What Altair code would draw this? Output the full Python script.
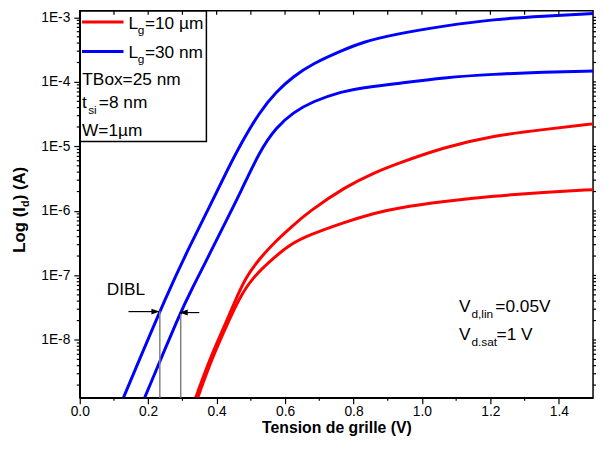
import altair as alt
import pandas as pd

# ---- data: gate voltage (V) and log10 of drain current (A)
vg_blue_sat = [0.128, 0.263, 0.325, 0.373, 0.421, 0.46, 0.527, 0.575, 0.623, 0.681, 0.768, 0.825, 0.921, 1.066, 1.21, 1.355, 1.5]
log_blue_sat = [-8.89, -7.19, -6.51, -6.00, -5.48, -5.06, -4.45, -4.146, -3.92, -3.715, -3.51, -3.385, -3.26, -3.13, -3.03, -2.98, -2.94]

vg_blue_lin = [0.19, 0.296, 0.325, 0.383, 0.431, 0.469, 0.527, 0.575, 0.623, 0.681, 0.768, 0.825, 0.921, 1.066, 1.21, 1.355, 1.5]
log_blue_lin = [-8.89, -7.545, -7.24, -6.63, -6.12, -5.72, -5.06, -4.70, -4.476, -4.30, -4.146, -4.09, -4.03, -3.93, -3.88, -3.85, -3.83]

vg_red_sat = [0.339, 0.382, 0.434, 0.455, 0.484, 0.522, 0.570, 0.618, 0.667, 0.777, 0.864, 0.921, 1.066, 1.21, 1.355, 1.5]
log_red_sat = [-8.89, -8.26, -7.65, -7.38, -7.04, -6.76, -6.48, -6.25, -6.02, -5.62, -5.40, -5.28, -5.01, -4.83, -4.74, -4.65]

vg_red_lin = [0.345, 0.388, 0.440, 0.464, 0.503, 0.570, 0.618, 0.667, 0.770, 0.864, 0.921, 1.066, 1.21, 1.355, 1.5]
log_red_lin = [-8.89, -8.26, -7.65, -7.38, -7.04, -6.71, -6.51, -6.38, -6.18, -6.03, -5.96, -5.85, -5.77, -5.71, -5.67]

series_names = ["red_sat", "red_lin", "blue_sat", "blue_lin"]
series_colors = ["#ff0000", "#ff0000", "#0000ff", "#0000ff"]

# DIBL markers (threshold voltages and current level)
dibl_vg = [0.234, 0.295]
dibl_log = [-7.545, -7.60]
arrow_tail_vg = [0.1424, 0.3492]
arrow_tip_vg = [0.2325, 0.2924]
arrow_log = [-7.56, -7.575]

x_ticks = [0.0, 0.2, 0.4, 0.6, 0.8, 1.0, 1.2, 1.4]
x_minor = [0.1, 0.3, 0.5, 0.7, 0.9, 1.1, 1.3]
x_top = [0.1, 0.2, 0.3, 0.4, 0.5, 0.6, 0.7, 0.8, 0.9, 1.0, 1.1, 1.2, 1.3, 1.4]
y_ticks = [1e-8, 1e-7, 1e-6, 1e-5, 1e-4, 1e-3]
y_minor = [m * 10.0 ** k for k in range(-9, -3) for m in range(2, 10)]

# ---- build tables
rows = []
for name, xs, ls in [("red_sat", vg_red_sat, log_red_sat), ("red_lin", vg_red_lin, log_red_lin),
                     ("blue_sat", vg_blue_sat, log_blue_sat), ("blue_lin", vg_blue_lin, log_blue_lin)]:
    for i, (x, l) in enumerate(zip(xs, ls)):
        rows.append({"vg": x, "id": 10.0 ** l, "s": name, "o": i})
df = pd.DataFrame(rows)

Y_MIN = 10.0 ** -8.895
Y_MAX = 10.0 ** -2.898
W, H = 520, 392
FONT = "Liberation Sans"

xscale = alt.Scale(domain=[0, 1.5], nice=False, zero=False)
yscale = alt.Scale(type="log", domain=[Y_MIN, Y_MAX], nice=False)
X_AXIS = alt.Axis(values=x_ticks, format=".1f", title="Tension de grille (V)", labelFlush=False,
                  tickSize=6, labelPadding=1, titlePadding=1, grid=False)
Y_AXIS = alt.Axis(values=y_ticks, labelExpr="'1E' + round(log(datum.value) / LN10)", labelFlush=False,
                  title=None, tickSize=6, labelPadding=4, grid=False)


def xe():
    return alt.X("vg:Q", scale=xscale, axis=X_AXIS)


def ye():
    return alt.Y("id:Q", scale=yscale, axis=Y_AXIS)


curves = alt.Chart(df).mark_line(strokeWidth=3, clip=True, interpolate="basis").encode(
    x=xe(), y=ye(),
    color=alt.Color("s:N", scale=alt.Scale(domain=series_names, range=series_colors), legend=None),
    order="o:Q",
)

one = pd.DataFrame({"a": [0]})

# minor / mirrored ticks
xminor_df = pd.DataFrame({"vg": x_minor})
xtop_df = pd.DataFrame({"vg": x_top})
yminor_df = pd.DataFrame({"id": y_minor})
ymajor_df = pd.DataFrame({"id": y_ticks})

tick_layers = [
    alt.Chart(xminor_df).mark_rule(color="black", strokeWidth=1.2).encode(x=xe(), y=alt.value(H), y2=alt.value(H + 3)),
    alt.Chart(xtop_df).mark_rule(color="black", strokeWidth=1.2).encode(x=xe(), y=alt.value(0), y2=alt.value(4)),
    alt.Chart(yminor_df).mark_rule(color="black", strokeWidth=1.2).encode(y=ye(), x=alt.value(-3), x2=alt.value(0)),
    alt.Chart(yminor_df).mark_rule(color="black", strokeWidth=1.2).encode(y=ye(), x=alt.value(W), x2=alt.value(W + 3)),
    alt.Chart(ymajor_df).mark_rule(color="black", strokeWidth=1.2).encode(y=ye(), x=alt.value(W), x2=alt.value(W + 5)),
]

# DIBL construction
dibl_df = pd.DataFrame({"vg": dibl_vg, "id": [10.0 ** l for l in dibl_log], "id0": [Y_MIN, Y_MIN]})
vlines = alt.Chart(dibl_df).mark_rule(color="#808080", strokeWidth=1.5).encode(
    x=xe(), y=ye(), y2="id0:Q")
arr_df = pd.DataFrame({"vg": arrow_tail_vg, "vg2": arrow_tip_vg, "id": [10.0 ** l for l in arrow_log]})
arrows = alt.Chart(arr_df).mark_rule(color="black", strokeWidth=1.2).encode(x=xe(), x2="vg2:Q", y=ye())
head_r = alt.Chart(pd.DataFrame({"vg": [arrow_tip_vg[0]], "id": [10.0 ** arrow_log[0]]})).mark_point(
    shape="M0,0L-2,-0.75L-2,0.75Z", filled=True, size=64, color="black", opacity=1).encode(x=xe(), y=ye())
head_l = alt.Chart(pd.DataFrame({"vg": [arrow_tip_vg[1]], "id": [10.0 ** arrow_log[1]]})).mark_point(
    shape="M0,0L2,-0.75L2,0.75Z", filled=True, size=64, color="black", opacity=1).encode(x=xe(), y=ye())


def txt(s, px, py, size, weight="normal", angle=0):
    return alt.Chart(one).mark_text(
        align="left", baseline="alphabetic", font=FONT, fontSize=size, fontWeight=weight,
        angle=angle, color="black").encode(x=alt.value(px), y=alt.value(py), text=alt.value(s))


# legend box
box = alt.Chart(one).mark_rect(fill="white", fillOpacity=0, stroke="black", strokeWidth=1.5).encode(
    x=alt.value(0), x2=alt.value(128.3), y=alt.value(0), y2=alt.value(132.5))
leg_red = alt.Chart(one).mark_rule(color="#ff0000", strokeWidth=3).encode(
    x=alt.value(2.3), x2=alt.value(44.3), y=alt.value(11.3))
leg_blue = alt.Chart(one).mark_rule(color="#0000ff", strokeWidth=3).encode(
    x=alt.value(2.3), x2=alt.value(44.3), y=alt.value(41.3))

FS = 17.5
SUB = 12
texts = [
    txt("L", 49.3, 18.7, FS), txt("g", 58.8, 24.0, SUB), txt("=10 µm", 66.0, 18.7, FS),
    txt("L", 49.3, 47.5, FS), txt("g", 58.8, 52.8, SUB), txt("=30 nm", 66.0, 47.5, FS),
    txt("TBox=25 nm", 2.6, 75.3, FS),
    txt("t", 2.3, 98.7, FS), txt("si", 8.5, 104.5, SUB), txt("=8 nm", 19.3, 98.7, FS),
    txt("W=1µm", 2.3, 127.0, FS),
    txt("DIBL", 27.3, 288.0, FS),
    txt("V", 384.3, 305.3, FS), txt("d,lin", 396.8, 311.5, SUB), txt("=0.05V", 421.0, 305.3, FS),
    txt("V", 384.3, 333.3, FS), txt("d.sat", 396.8, 339.5, SUB), txt("=1 V", 422.3, 333.3, FS),
    # y-axis title with subscript
    txt("Log (I", -55.7, 245.0, 17, "bold", 270),
    txt("d", -51.7, 198.7, 11, "bold", 270),
    txt(") (A)", -55.7, 192.0, 17, "bold", 270),
]

chart = alt.layer(
    curves, *tick_layers, vlines, arrows, head_r, head_l, box, leg_red, leg_blue, *texts
).properties(
    width=W, height=H,
    autosize=alt.AutoSizeParams(type="none"),
    padding={"left": 72.7, "top": 0, "right": 3, "bottom": 42},
).configure_view(
    stroke="black", strokeWidth=1.5
).configure_axis(
    labelFont=FONT, labelFontSize=14, labelColor="black",
    titleFont=FONT, titleFontSize=16, titleFontWeight="bold", titleColor="black",
    domainColor="black", domainWidth=1.5, tickColor="black", tickWidth=1.2,
)

chart.save("out.html", embed_options={"renderer": "svg", "actions": False})
